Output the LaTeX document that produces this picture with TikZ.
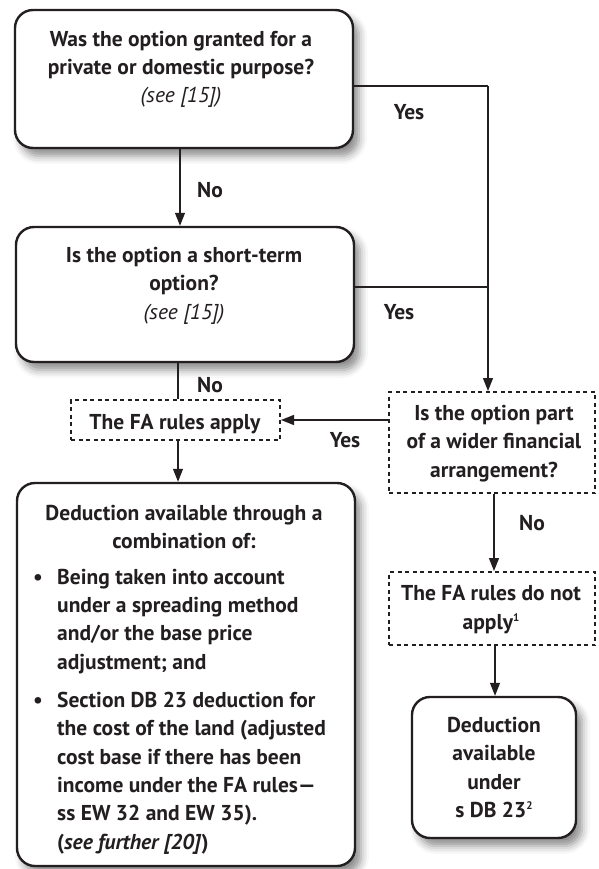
\documentclass[tikz,border=0pt]{standalone}
\usepackage{fontspec}
\setmainfont{PT Sans}
\usetikzlibrary{arrows.meta,shadows.blur}
\definecolor{ink}{HTML}{231F20}
\newcommand{\supnum}[1]{\raisebox{8pt}{\fontsize{11}{11}\selectfont #1}}
\begin{document}
\begin{tikzpicture}[x=1pt,y=-1pt,
  rbox/.style={draw=ink, line width=2.4pt, rounded corners=18pt, fill=white,
    blur shadow={shadow xshift=6pt, shadow yshift=-8pt, shadow blur radius=8pt, shadow opacity=45},
    inner sep=0pt},
  dbox/.style={draw=ink, line width=2pt, dash pattern=on 4pt off 3.5pt, fill=white, inner sep=0pt},
  conn/.style={draw=ink, line width=1.2pt},
  arr/.style={conn, -{Triangle[length=13pt,width=10pt]}},
  t/.style={anchor=base, inner sep=0pt, text=ink, font=\fontsize{21.5}{28}\selectfont\bfseries},
  ti/.style={t, font=\fontsize{21.5}{28}\selectfont\itshape},
  tl/.style={t, anchor=base west},
]
\useasboundingbox (0,0) rectangle (598,869);

% boxes
\node[rbox, minimum width=338pt, minimum height=138pt] (A) at (184,79) {};
\node[rbox, minimum width=338pt, minimum height=135pt] (B) at (185,294.5) {};
\node[dbox, minimum width=209pt, minimum height=40pt] (fa) at (175.5,420) {};
\node[rbox, minimum width=338pt, minimum height=383pt] (F) at (186,674.5) {};
\node[dbox, minimum width=206pt, minimum height=101pt] (C) at (492,442.5) {};
\node[dbox, minimum width=206pt, minimum height=73pt] (D) at (492,608.5) {};
\node[rbox, minimum width=164pt, minimum height=141pt] (E) at (494,767.5) {};

% connectors
\coordinate (j1) at (488,86);
\coordinate (j2) at (488,287);
\coordinate (x1) at (178,0);
\coordinate (x2) at (494,0);
\coordinate (x3) at (495,0);
\draw[conn] (A.east |- j1) -- (j1);
\draw[arr] (j1) -- (j1 |- C.north);
\draw[conn] (B.east |- j2) -- (j2);
\draw[arr] ([xshift=-4pt]A.south) -- ([xshift=-4pt]A.south |- B.north);
\draw[conn] (x1 |- B.south) -- (x1 |- fa.north);
\draw[arr] (x1 |- fa.south) -- (x1 |- F.north);
\draw[arr] (C.west |- fa.east) -- (fa.east);
\draw[arr] (x2 |- C.south) -- (x2 |- D.north);
\draw[arr] (x3 |- D.south) -- (x3 |- E.north);

% labels
\node[t] (yes1) at (409,120) {Yes};
\node[t] (no1) at (210,197) {No};
\node[t] (yes2) at (399,319) {Yes};
\node[t] (no2) at (210,392) {No};
\node[t] (yes3) at (345,447) {Yes};
\node[t] (no3) at (532,530) {No};

% A text
\node[t] (a1) at (181,47) {Was the option granted for a};
\node[t] (a2) at (181,75) {private or domestic purpose?};
\node[ti] (a3) at (181,103) {(see [15])};
% B text
\node[t] (b1) at (184,262) {Is the option a short-term};
\node[t] (b2) at (184,290) {option?};
\node[ti] (b3) at (184,319) {(see [15])};
% FA text
\node[t] (fat) at (175,429) {The FA rules apply};
% C text
\node[t] (c1) at (494,420) {Is the option part};
\node[t] (c2) at (494,448) {of a wider financial};
\node[t] (c3) at (494,477) {arrangement?};
% D text
\node[t] (d1) at (491,600) {The FA rules do not};
\node[t] (d2) at (491,629) {apply\supnum{1}};
% E text
\node[t] (e1) at (494,732) {Deduction};
\node[t] (e2) at (494,760) {available};
\node[t] (e3) at (494,789) {under};
\node[t] (e4) at (494,817) {s DB 23\supnum{2}};
% F text
\node[t] (f1) at (184,520) {Deduction available through a};
\node[t] (f2) at (184,548) {combination of:};
\node[tl] (fb1) at (33,584) {•};
\node[tl] (f3) at (57,584) {Being taken into account};
\node[tl] (f4) at (57,612) {under a spreading method};
\node[tl] (f5) at (57,640) {and/or the base price};
\node[tl] (f6) at (57,669) {adjustment; and};
\node[tl] (fb2) at (33,707) {•};
\node[tl] (f7) at (57,707) {Section DB 23 deduction for};
\node[tl] (f8) at (57,735) {the cost of the land (adjusted};
\node[tl] (f9) at (57,764) {cost base if there has been};
\node[tl] (f10) at (57,792) {income under the FA rules—};
\node[tl] (f11) at (57,820) {ss EW 32 and EW 35).};
\node[tl] (f12) at (57,849) {(\textit{see further [20]})};
\end{tikzpicture}
\end{document}
